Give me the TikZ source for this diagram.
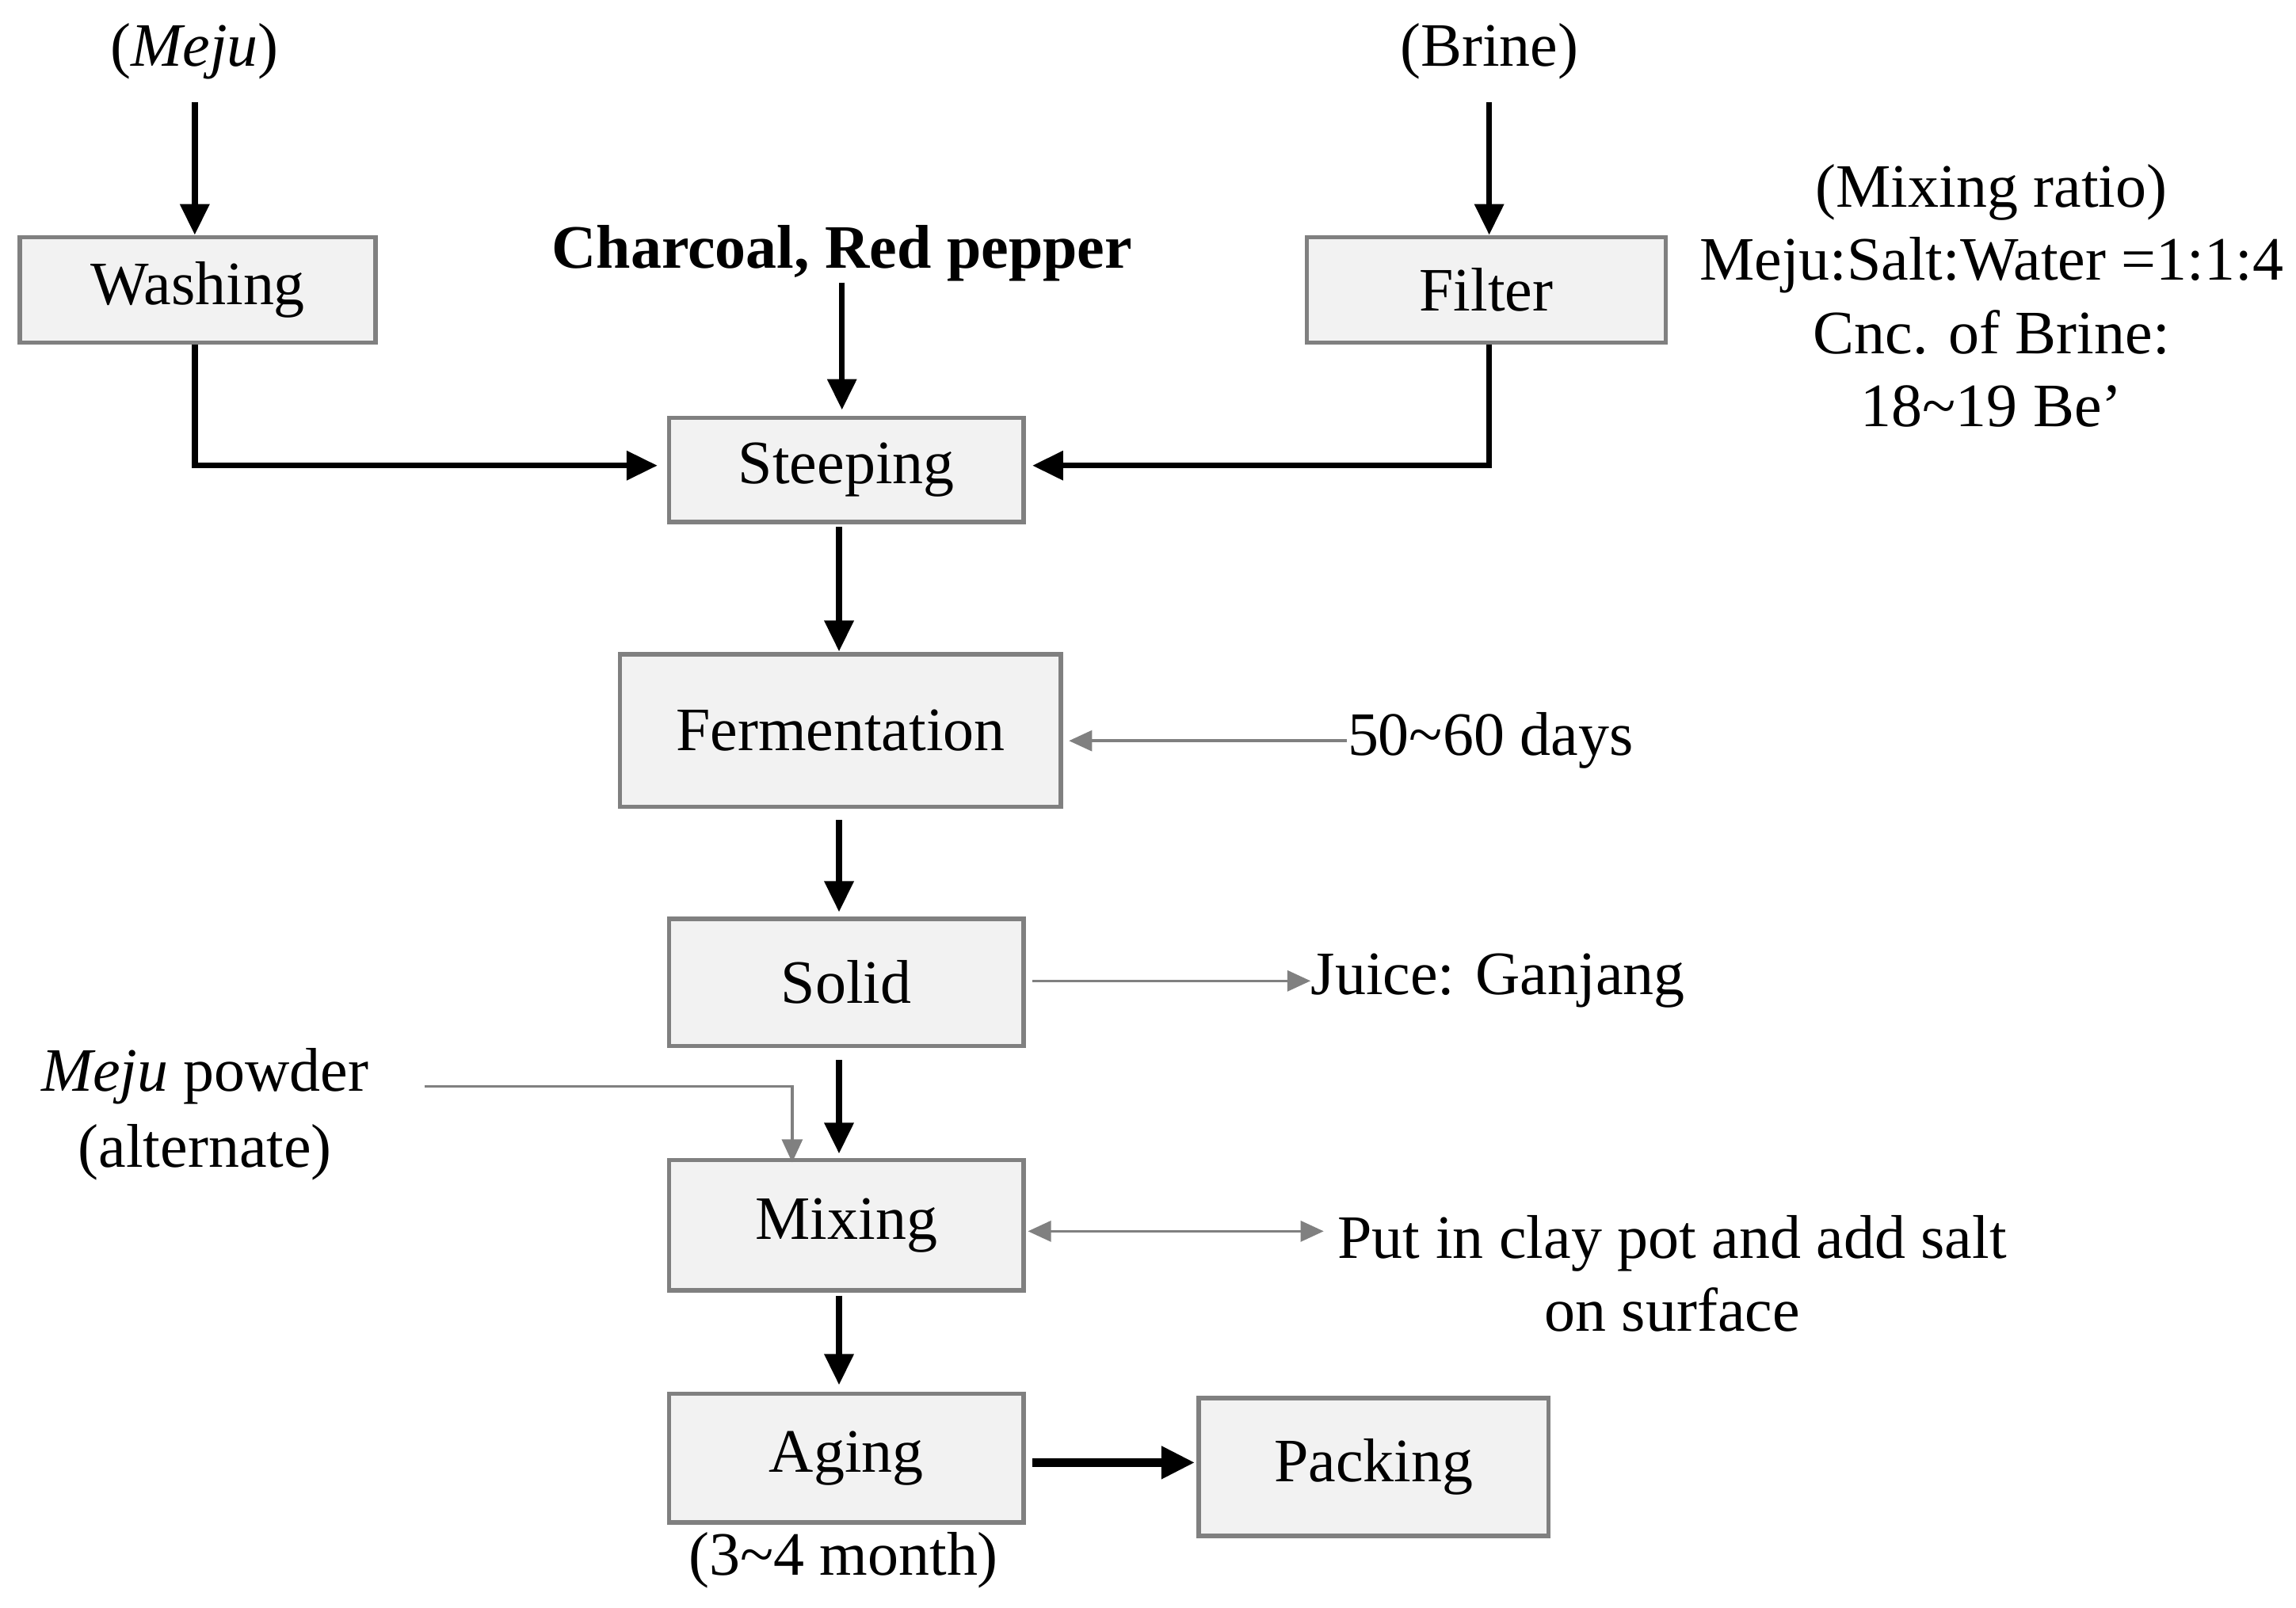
\documentclass[tikz,border=0pt]{standalone}
\usepackage{fontspec}
\setmainfont{Liberation Serif}
\usetikzlibrary{arrows.meta}
\begin{document}
\begin{tikzpicture}[x=0.02cm,y=-0.02cm,
  font=\fontsize{24}{28}\selectfont,
  box/.style={draw=black!50,fill=black!5,line width=1.7pt,inner sep=0pt},
  blk/.style={line width=2.3pt,-{Triangle[length=12pt,width=11pt]}},
  gry/.style={draw=black!50,line width=1.1pt,-{Triangle[length=9pt,width=8pt]}},
  txt/.style={inner sep=0pt}]
\useasboundingbox (0,0) rectangle (1568,1098);
\node[box,minimum width=243*0.02cm,minimum height=72*0.02cm] (wash) at (135,198) {Washing};
\node[box,minimum width=245*0.02cm,minimum height=72*0.02cm] (filt) at (1015,198) {Filter};
\node[box,minimum width=242*0.02cm,minimum height=71*0.02cm] (steep) at (578,321) {Steeping};
\node[box,minimum width=301*0.02cm,minimum height=104*0.02cm] (ferm) at (574,499) {Fermentation};
\node[box,minimum width=242*0.02cm,minimum height=87*0.02cm] (solid) at (578,671) {Solid};
\node[box,minimum width=242*0.02cm,minimum height=89*0.02cm] (mix) at (578,837) {Mixing};
\node[box,minimum width=242*0.02cm,minimum height=88*0.02cm] (aging) at (578,996) {Aging};
\node[box,minimum width=239*0.02cm,minimum height=94*0.02cm] (pack) at (938,1002) {Packing};
\node[txt] (meju) at (133,35) {(\textit{Meju})};
\node[txt] (brine) at (1017,35) {(Brine)};
\node[txt,font=\fontsize{24}{28}\selectfont\bfseries] (char) at (575,173) {Charcoal, Red pepper};
\node[txt,align=center,font=\fontsize{24}{28.5}\selectfont] (ratio) at (1360,202) {(Mixing ratio)\\Meju:Salt:Water =1:1:4\\Cnc. of Brine:\\18\textasciitilde19 Be’};
\node[txt,anchor=west] (days) at (920,506) {50\textasciitilde60 days};
\node[txt,anchor=west] (juice) at (895,670) {Juice: Ganjang};
\node[txt,align=center,font=\fontsize{24}{29.5}\selectfont] (powder) at (140,761) {\textit{Meju} powder\\(alternate)};
\node[txt,align=center,font=\fontsize{24}{28.5}\selectfont] (clay) at (1142,870) {Put in clay pot and add salt\\on surface};
\node[txt] (month) at (576,1066) {(3\textasciitilde4 month)};
\coordinate (c1) at (133,318);
\coordinate (c2) at (1017,318);
\coordinate (c3) at (541,742);
\draw[blk] (133,70) -- (wash.north -| 133,0);
\draw[blk] (1017,70) -- (filt.north -| 1017,0);
\draw[blk] (char.south |- 0,193) -- (575,280);
\draw[line width=2.3pt,-{Triangle[length=12pt,width=11pt]}] (wash.south -| c1) -- (c1) -- (449,318);
\draw[line width=2.3pt,-{Triangle[length=12pt,width=11pt]}] (filt.south -| c2) -- (c2) -- (705,318);
\draw[blk] (573,360) -- (573,445);
\draw[blk] (573,560) -- (573,623);
\draw[blk] (573,724) -- (573,788);
\draw[blk] (573,885) -- (573,946);
\draw[line width=3.2pt,-{Triangle[length=13pt,width=12pt]}] (705,999) -- (816,999);
\draw[gry] (days.west) -- (730,506);
\draw[gry] (705,670) -- (juice.west);
\draw[gry] (290,742) -- (c3) -- (541,794);
\draw[gry,{Triangle[length=9pt,width=8pt]}-{Triangle[length=9pt,width=8pt]}] (702,841) -- (904,841);
\end{tikzpicture}
\end{document}
